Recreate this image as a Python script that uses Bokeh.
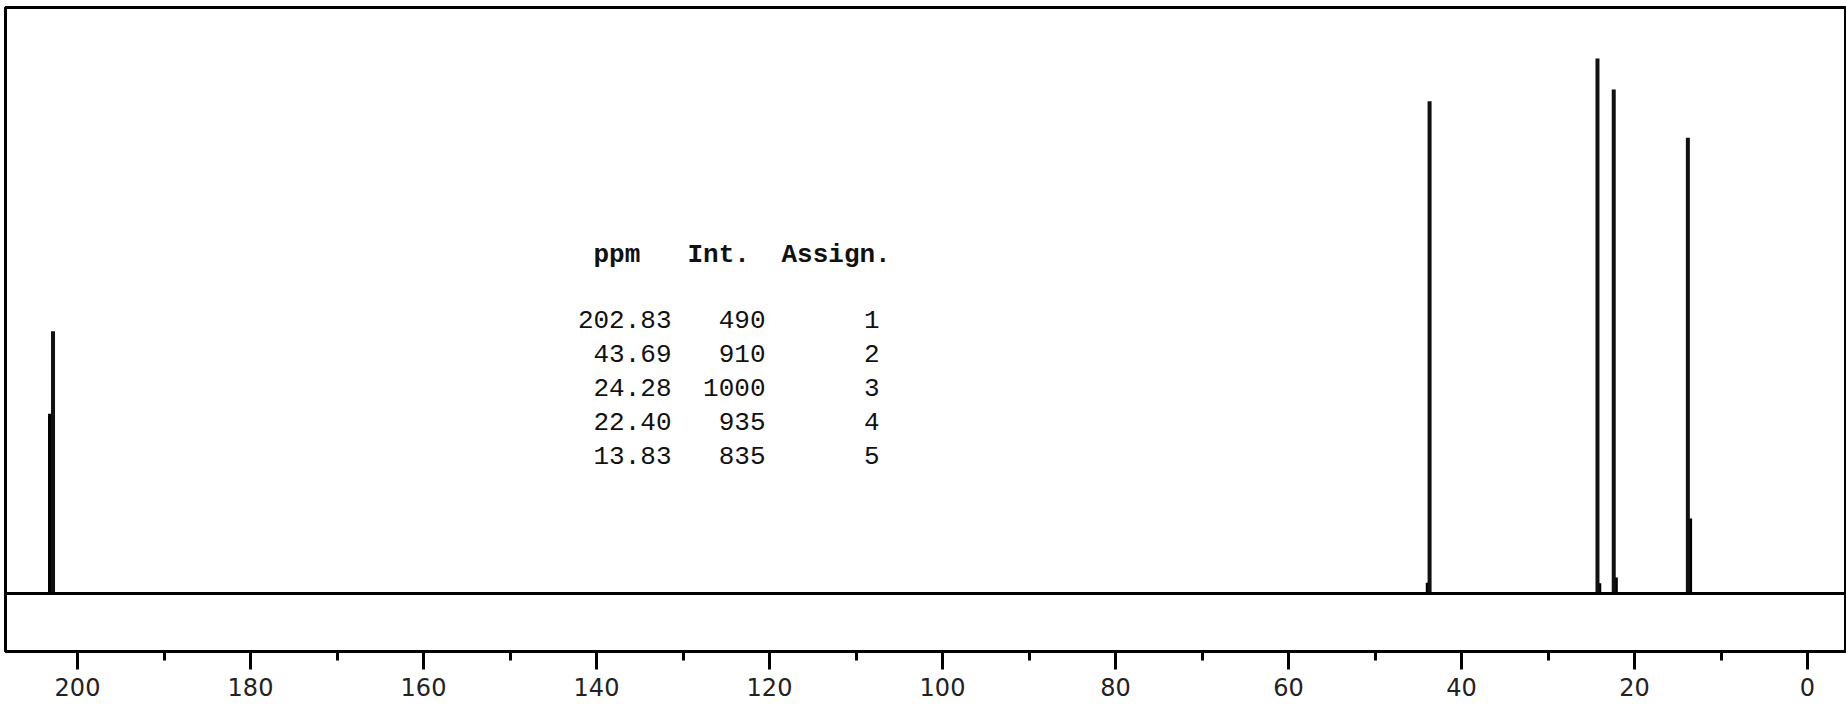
from bokeh.plotting import figure
from bokeh.models import Range1d, SingleIntervalTicker, Span, ColumnDataSource
from bokeh.core.properties import value
from bokeh.embed import file_html
from bokeh.resources import INLINE

# ---- data ----
peak_ppm = [202.83, 43.69, 24.28, 22.40, 13.83]
peak_height = [490, 920, 1000, 942, 852]
shoulder_ppm = [203.12, 43.84, 24.13, 22.22, 13.63]
shoulder_height = [336, 20, 19, 30, 140]

table_ppm = ["202.83", "43.69", "24.28", "22.40", "13.83"]
table_int = ["490", "910", "1000", "935", "835"]
table_assign = ["1", "2", "3", "4", "5"]
table_header = ["ppm", "Int.", "Assign."]

# ---- layout helpers (screen px of the reference -> data) ----
PX0, PXS = 1807.0, 8.65      # x pixel of 0 ppm, px per ppm
PY0, PYS = 593.0, 0.535      # y pixel of baseline, px per intensity unit
FL, FR, FT, FB = 5, 1845, 7, 651   # frame edges in page px


def fx(px):
    return (PX0 - px) / PXS


def fy(py):
    return (PY0 - py) / PYS


p = figure(frame_width=FR - FL, frame_height=FB - FT,
           output_backend="svg", toolbar_location=None,
           x_range=Range1d(fx(FL), fx(FR)), y_range=Range1d(fy(FB), fy(FT)),
           min_border_left=FL, min_border_right=1, min_border_top=FT, min_border_bottom=54,
           y_axis_location=None, background_fill_color="white")
p.grid.visible = False
p.outline_line_color = "black"
p.outline_line_width = 3
p.outline_line_alpha = 1.0

ax = p.xaxis[0]
ax.ticker = SingleIntervalTicker(interval=20, num_minor_ticks=2)
ax.axis_line_color = "black"
ax.axis_line_width = 3
ax.major_tick_line_color = "black"
ax.major_tick_line_width = 3
ax.major_tick_out = 18
ax.major_tick_in = 0
ax.minor_tick_line_color = "black"
ax.minor_tick_line_width = 3
ax.minor_tick_out = 9
ax.minor_tick_in = 0
ax.major_label_text_font = "DejaVu Sans"
ax.major_label_text_font_size = "24px"
ax.major_label_text_color = "#222222"
ax.major_label_standoff = 8

# baseline
p.add_layout(Span(location=0, dimension="width", line_color="black", line_width=3))

# shoulders / feet
src_s = ColumnDataSource(dict(x=shoulder_ppm, y0=[0] * len(shoulder_ppm), y1=shoulder_height))
p.segment(x0="x", y0="y0", x1="x", y1="y1", source=src_s, line_color="black", line_width=5)

# peaks
src_p = ColumnDataSource(dict(x=peak_ppm, y0=[0] * len(peak_ppm), y1=peak_height))
p.segment(x0="x", y0="y0", x1="x", y1="y1", source=src_p, line_color="#111111", line_width=4)

# ---- peak table ----
mono = value("Liberation Mono")
hdr_x = [fx(593), fx(687), fx(781)]
p.text(x=hdr_x, y=[fy(254)] * 3, text=table_header, text_font=mono,
       text_font_size="26px", text_font_style="bold", text_color="#111111",
       text_align="left", text_baseline="middle")

row_y = [fy(319 + 34 * i) for i in range(len(table_ppm))]
for col_text, px in ((table_ppm, 671), (table_int, 765), (table_assign, 879)):
    p.text(x=[fx(px)] * len(col_text), y=row_y, text=col_text, text_font=mono,
           text_font_size="26px", text_color="#111111",
           text_align="right", text_baseline="middle")

open("out.html", "w").write(file_html(p, INLINE))
